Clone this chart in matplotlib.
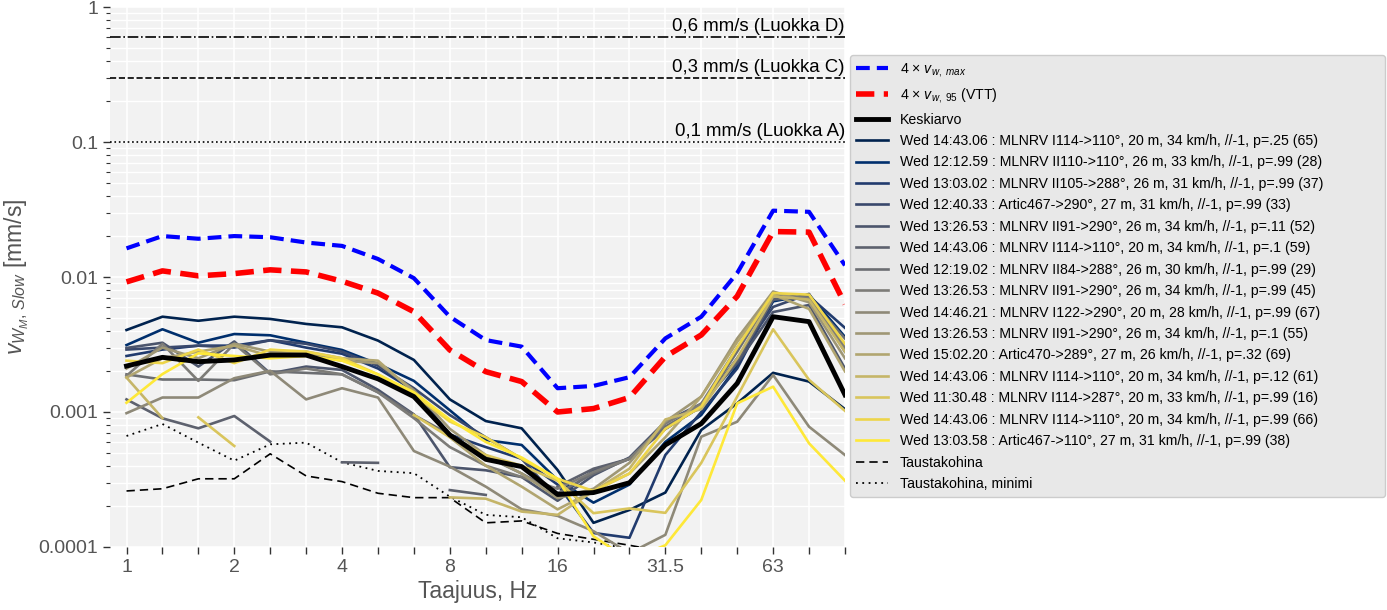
import numpy as np
import matplotlib
matplotlib.use("Agg")
import matplotlib.pyplot as plt
from matplotlib.transforms import blended_transform_factory

plt.rcParams['font.family'] = ['Liberation Sans', 'DejaVu Sans']
plt.rcParams['mathtext.fontset'] = 'custom'
plt.rcParams['mathtext.rm'] = 'Liberation Sans'
plt.rcParams['mathtext.it'] = 'Liberation Sans:italic'

nan = np.nan

# terssikaistat 1...100 Hz
bands = [1, 1.25, 1.6, 2, 2.5, 3.15, 4, 5, 6.3, 8, 10, 12.5, 16, 20, 25, 31.5, 40, 50, 63, 80, 100]
tick_labels = ["1", "", "", "2", "", "", "4", "", "", "8", "", "", "16", "", "", "31.5", "", "", "63", "", ""]

v_max4 = [0.0163, 0.0201, 0.0192, 0.0201, 0.0197, 0.0180, 0.0170, 0.0136, 0.0098, 0.00508, 0.00341,
          0.00305, 0.00150, 0.00156, 0.00181, 0.00351, 0.00508, 0.0107, 0.0310, 0.0304, 0.0122]
v_95_4 = [0.0092, 0.0111, 0.0102, 0.0106, 0.0113, 0.0109, 0.0093, 0.0076, 0.00553, 0.00288, 0.00199,
          0.00168, 0.00100, 0.00106, 0.00128, 0.00257, 0.00372, 0.0072, 0.0217, 0.0215, 0.0063]
mean = [0.00219, 0.00254, 0.00236, 0.00243, 0.00264, 0.00264, 0.00217, 0.00176, 0.00130, 0.000676, 0.000446,
        0.000394, 0.000245, 0.000253, 0.000299, 0.00057, 0.00082, 0.00163, 0.00508, 0.00467, 0.00134]
bg_noise = [0.00026, 0.00027, 0.00032, 0.00032, 0.00049, 0.000336, 0.000305, 0.00025, 0.000232, 0.000232, 0.000151,
            0.000156, 0.000126, 0.000114, 0.000103, 0.000092, 0.00008, 0.00007, 0.00006, 0.00006, 0.00006]
bg_min = [0.000664, 0.000815, 0.000593, 0.000436, 0.000576, 0.000593, 0.000424, 0.000366, 0.000352, 0.000236, 0.000173,
          0.000166, 0.000116, 0.000108, 0.000097, 0.00008, 0.00007, 0.00006, 0.00005, 0.00005, 0.00005]

run_labels = [
    "Wed 14:43.06 : MLNRV I114->110°, 20 m, 34 km/h, //-1, p=.25 (65)",
    "Wed 12:12.59 : MLNRV II110->110°, 26 m, 33 km/h, //-1, p=.99 (28)",
    "Wed 13:03.02 : MLNRV II105->288°, 26 m, 31 km/h, //-1, p=.99 (37)",
    "Wed 12:40.33 : Artic467->290°, 27 m, 31 km/h, //-1, p=.99 (33)",
    "Wed 13:26.53 : MLNRV II91->290°, 26 m, 34 km/h, //-1, p=.11 (52)",
    "Wed 14:43.06 : MLNRV I114->110°, 20 m, 34 km/h, //-1, p=.1 (59)",
    "Wed 12:19.02 : MLNRV II84->288°, 26 m, 30 km/h, //-1, p=.99 (29)",
    "Wed 13:26.53 : MLNRV II91->290°, 26 m, 34 km/h, //-1, p=.99 (45)",
    "Wed 14:46.21 : MLNRV I122->290°, 20 m, 28 km/h, //-1, p=.99 (67)",
    "Wed 13:26.53 : MLNRV II91->290°, 26 m, 34 km/h, //-1, p=.1 (55)",
    "Wed 15:02.20 : Artic470->289°, 27 m, 26 km/h, //-1, p=.32 (69)",
    "Wed 14:43.06 : MLNRV I114->110°, 20 m, 34 km/h, //-1, p=.12 (61)",
    "Wed 11:30.48 : MLNRV I114->287°, 20 m, 33 km/h, //-1, p=.99 (16)",
    "Wed 14:43.06 : MLNRV I114->110°, 20 m, 34 km/h, //-1, p=.99 (66)",
    "Wed 13:03.58 : Artic467->110°, 27 m, 31 km/h, //-1, p=.99 (38)",
]

run_0 = [0.00405, 0.00508, 0.00474, 0.00508, 0.00489, 0.00449, 0.00424, 0.00338, 0.00243, 0.00124, 0.000857,
         0.000757, 0.000372, 0.000151, 0.000188, 0.000253, 0.000736, 0.00116, 0.00195, 0.00168, 0.00105]
run_1 = [0.00313, 0.00410, 0.00326, 0.00378, 0.00370, 0.00326, 0.00288, 0.00227, 0.00170, 0.00103, 0.00062,
         0.00057, 0.000313, 0.000213, 0.00029, 0.00060, 0.00095, 0.0022, 0.0066, 0.0074, 0.0036]
run_2 = [0.0026, 0.0029, 0.0031, 0.0031, 0.0034, 0.0030, 0.0027, 0.0021, 0.00145, 0.00068, 0.00055,
         0.00045, 0.00029, 0.000127, 0.000117, 0.00048, 0.0010, 0.0021, 0.0068, 0.0072, 0.0042]
run_3 = [0.0029, 0.0030, 0.0031, 0.0030, 0.0034, 0.0032, 0.0028, 0.0022, 0.0015, 0.00095, 0.00065,
         0.00045, 0.00023, 0.00037, 0.00045, 0.00075, 0.0011, 0.0025, 0.0060, 0.0075, 0.0028]
run_4 = [0.00298, 0.00326, 0.00217, 0.00333, 0.00193, 0.00217, 0.00205, 0.00146, 0.00096, 0.00039, 0.00037,
         0.00033, 0.00022, 0.00034, 0.00046, 0.00085, 0.00115, 0.0023, 0.0055, 0.0062, 0.0021]
run_5 = [0.00124, 0.000898, 0.000757, 0.000934, 0.000603, nan, 0.000424, 0.00042, nan, 0.000264, 0.000243,
         nan, 0.00028, 0.00038, 0.00045, 0.00075, 0.0011, 0.0024, 0.0068, 0.0072, 0.0030]
run_6 = [0.0019, 0.00174, 0.00174, 0.00172, 0.0020, 0.00195, 0.0019, 0.0014, 0.00095, 0.00068, 0.00047,
         0.00035, 0.00025, 0.00035, 0.00045, 0.00078, 0.0011, 0.0028, 0.0075, 0.0070, 0.0035]
run_7 = [0.00185, 0.0032, 0.0017, 0.0032, 0.0019, 0.0021, 0.0019, 0.0014, 0.0009, 0.00055, 0.00040,
         0.00033, 0.00027, 0.00036, 0.00045, 0.00082, 0.00115, 0.0030, 0.0072, 0.0070, 0.0030]
run_8 = [0.00098, 0.00128, 0.00128, 0.00178, 0.00202, 0.00124, 0.0015, 0.00128, 0.000514, 0.000394, 0.00028,
         0.00019, 0.00017, 0.000131, 0.00009, 0.000123, 0.000656, 0.000847, 0.00188, 0.000778, 0.00048]
run_9 = [0.0021, 0.0030, 0.0025, 0.0032, 0.0028, 0.0027, 0.0024, 0.0023, 0.00145, 0.00075, 0.00048,
         0.00035, 0.00023, 0.00027, 0.00042, 0.00085, 0.0013, 0.0035, 0.0078, 0.0065, 0.0025]
run_10 = [0.0018, 0.0025, 0.0028, 0.0031, 0.0026, 0.0028, 0.0025, 0.0024, 0.0014, 0.00065, 0.00040,
          0.00028, 0.00019, 0.00026, 0.00035, 0.00065, 0.0013, 0.0033, 0.0074, 0.0058, 0.0020]
run_11 = [0.0018, 0.00090, nan, nan, nan, nan, nan, nan, nan, 0.000233, 0.000228,
          0.000183, 0.000173, 0.00026, 0.00038, 0.00088, 0.00105, 0.0025, 0.0072, 0.0068, 0.0028]
run_12 = [nan, nan, 0.000913, 0.00056, nan, nan, nan, nan, 0.00095, 0.00065, 0.00048,
          0.00040, 0.00031, 0.000178, 0.000193, 0.000179, 0.00042, 0.0013, 0.0041, 0.00173, 0.00102]
run_13 = [0.0024, 0.0023, 0.0029, 0.0023, 0.0029, 0.0028, 0.0025, 0.0019, 0.00135, 0.00085, 0.00065,
          0.00045, 0.00032, 0.00026, 0.00035, 0.00075, 0.0011, 0.0030, 0.0076, 0.0074, 0.0032]
run_14 = [0.00117, 0.00191, 0.00272, 0.0026, 0.0025, 0.0026, 0.0024, 0.0019, 0.0014, 0.00088, 0.00060,
          0.00046, 0.00032, 0.00012, 0.00008, 0.000103, 0.000223, 0.00116, 0.00154, 0.000586, 0.00031]

runs = [run_0, run_1, run_2, run_3, run_4, run_5, run_6, run_7, run_8, run_9,
        run_10, run_11, run_12, run_13, run_14]

limits = [0.6, 0.3, 0.1]
limit_labels = ["0,6 mm/s (Luokka D)", "0,3 mm/s (Luokka C)", "0,1 mm/s (Luokka A)"]
limit_styles = ["-.", "--", ":"]

x = np.arange(len(bands))
label_gray = "#555555"

fig = plt.figure(figsize=(13.87, 6.10), dpi=100)
ax = fig.add_axes([0.0793, 0.1033, 0.5299, 0.8852])
ax.set_facecolor("#f2f2f2")
for s in ax.spines.values():
    s.set_visible(False)

# raja-arvot
trans = blended_transform_factory(ax.transAxes, ax.transData)
for val, lab, ls in zip(limits, limit_labels, limit_styles):
    ax.axhline(val, color="black", lw=1.2, ls=ls, zorder=2)
    ax.text(1.0, val * 1.03, lab, transform=trans, ha="right", va="bottom",
            fontsize=13.4, color="black", zorder=3)

ax.plot(x, v_max4, color="blue", lw=3, ls=(0, (3.3, 1.7)), label=r"4 × $v_{w,\ max}$", zorder=4)
ax.plot(x, v_95_4, color="red", lw=4, ls=(0, (3.3, 1.7)), label=r"4 × $v_{w,\ 95}$ (VTT)", zorder=4)
ax.plot(x, mean, color="black", lw=3.5, label="Keskiarvo", zorder=6)

colors = plt.cm.cividis(np.linspace(0, 1, len(runs)))
for vals, lab, c in zip(runs, run_labels, colors):
    ax.plot(x, vals, color=c, lw=1.9, label=lab, zorder=5)

ax.plot(x, bg_noise, color="black", lw=1.2, ls=(0, (5, 3)), label="Taustakohina", zorder=4)
ax.plot(x, bg_min, color="black", lw=1.3, ls=(0, (1, 2.5)), label="Taustakohina, minimi", zorder=4)

ax.set_yscale("log")
ax.set_ylim(0.0001, 1)
ax.set_xlim(-0.46, 19.58)
ax.set_yticks([0.0001, 0.001, 0.01, 0.1, 1])
ax.set_yticklabels(["0.0001", "0.001", "0.01", "0.1", "1"])
ax.set_xticks(x)
ax.set_xticklabels(tick_labels)

ax.tick_params(axis="both", which="major", labelsize=14, labelcolor=label_gray,
               color="#333333", length=5, width=1)
ax.tick_params(axis="y", which="minor", color="#333333", length=3, width=0.8)
ax.grid(True, which="major", color="white", lw=1.2)
ax.grid(True, which="minor", axis="y", color="white", lw=1.0)
ax.set_axisbelow(True)

ax.set_xlabel("Taajuus, Hz", fontsize=16.5, color=label_gray, labelpad=3)
ax.set_ylabel(r"$v_{W_M,\,Slow}$ [mm/s]", fontsize=16.5, color=label_gray, labelpad=5)

# selite akselin oikealle puolelle, leveys venytetty
leg = ax.legend(loc="upper left", bbox_to_anchor=(1.007, 0.0, 0.728, 0.911), mode="expand",
                borderaxespad=0, fontsize=10.2, handlelength=2.3, handletextpad=0.8,
                labelspacing=0.525, frameon=True, facecolor="#e8e8e8", edgecolor="#cccccc",
                framealpha=1, borderpad=0.4)

fig.savefig("out.png", dpi=100)
